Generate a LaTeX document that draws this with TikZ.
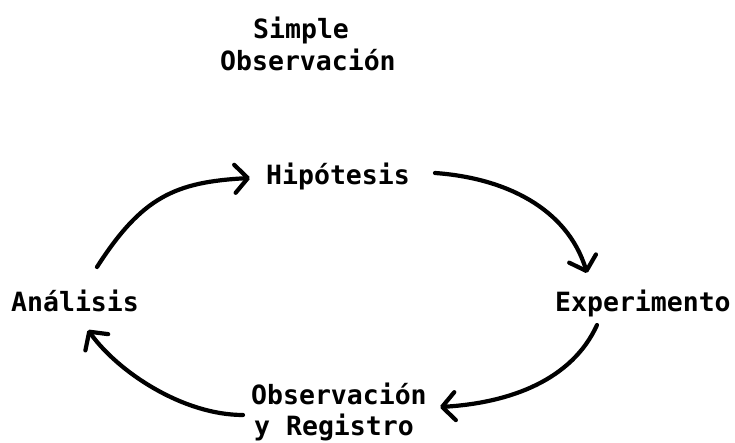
\documentclass[tikz,border=0pt]{standalone}
\usepackage{fontspec}
\setmainfont{DejaVu Sans Mono}
\usetikzlibrary{arrows.meta}
\begin{document}
\begin{tikzpicture}[x=1pt,y=1pt,
  lbl/.style={anchor=base west,inner sep=0pt,font=\fontsize{26.5}{32}\selectfont\bfseries},
  conn/.style={line width=4.2pt,line cap=round,line join=round,
    -{Straight Barb[length=13pt,width=28pt,round]}}]
\useasboundingbox[fill=white] (0,0) rectangle (735,443);
\node[lbl] (s1) at (253,404) {Simple};
\node[lbl] (s2) at (220,372) {Observación};
\node[lbl] (hip) at (266,258) {Hipótesis};
\node[lbl] (ana) at (11,131) {Análisis};
\node[lbl] (exp) at (555,131) {Experimento};
\node[lbl] (obs1) at (251,38) {Observación};
\node[lbl] (obs2) at (254,7) {y Registro};
\draw[conn] ([shift={(86,45)}]ana.base west) .. controls +(45,70) and +(-75,-4) .. ([shift={(-16,7)}]hip.base west);
\draw[conn] ([shift={(169,12)}]hip.base west) .. controls +(70,-5) and +(-20,65) .. ([shift={(32,39)}]exp.base west);
\draw[conn] ([shift={(42,-13)}]exp.base west) .. controls +(-25,-55) and +(70,4) .. ([shift={(189,-2)}]obs1.base west);
\draw[conn] ([shift={(-8,-10)}]obs1.base west) .. controls +(-60,0) and +(30,-42) .. ([shift={(77,-18)}]ana.base west);
\end{tikzpicture}
\end{document}
